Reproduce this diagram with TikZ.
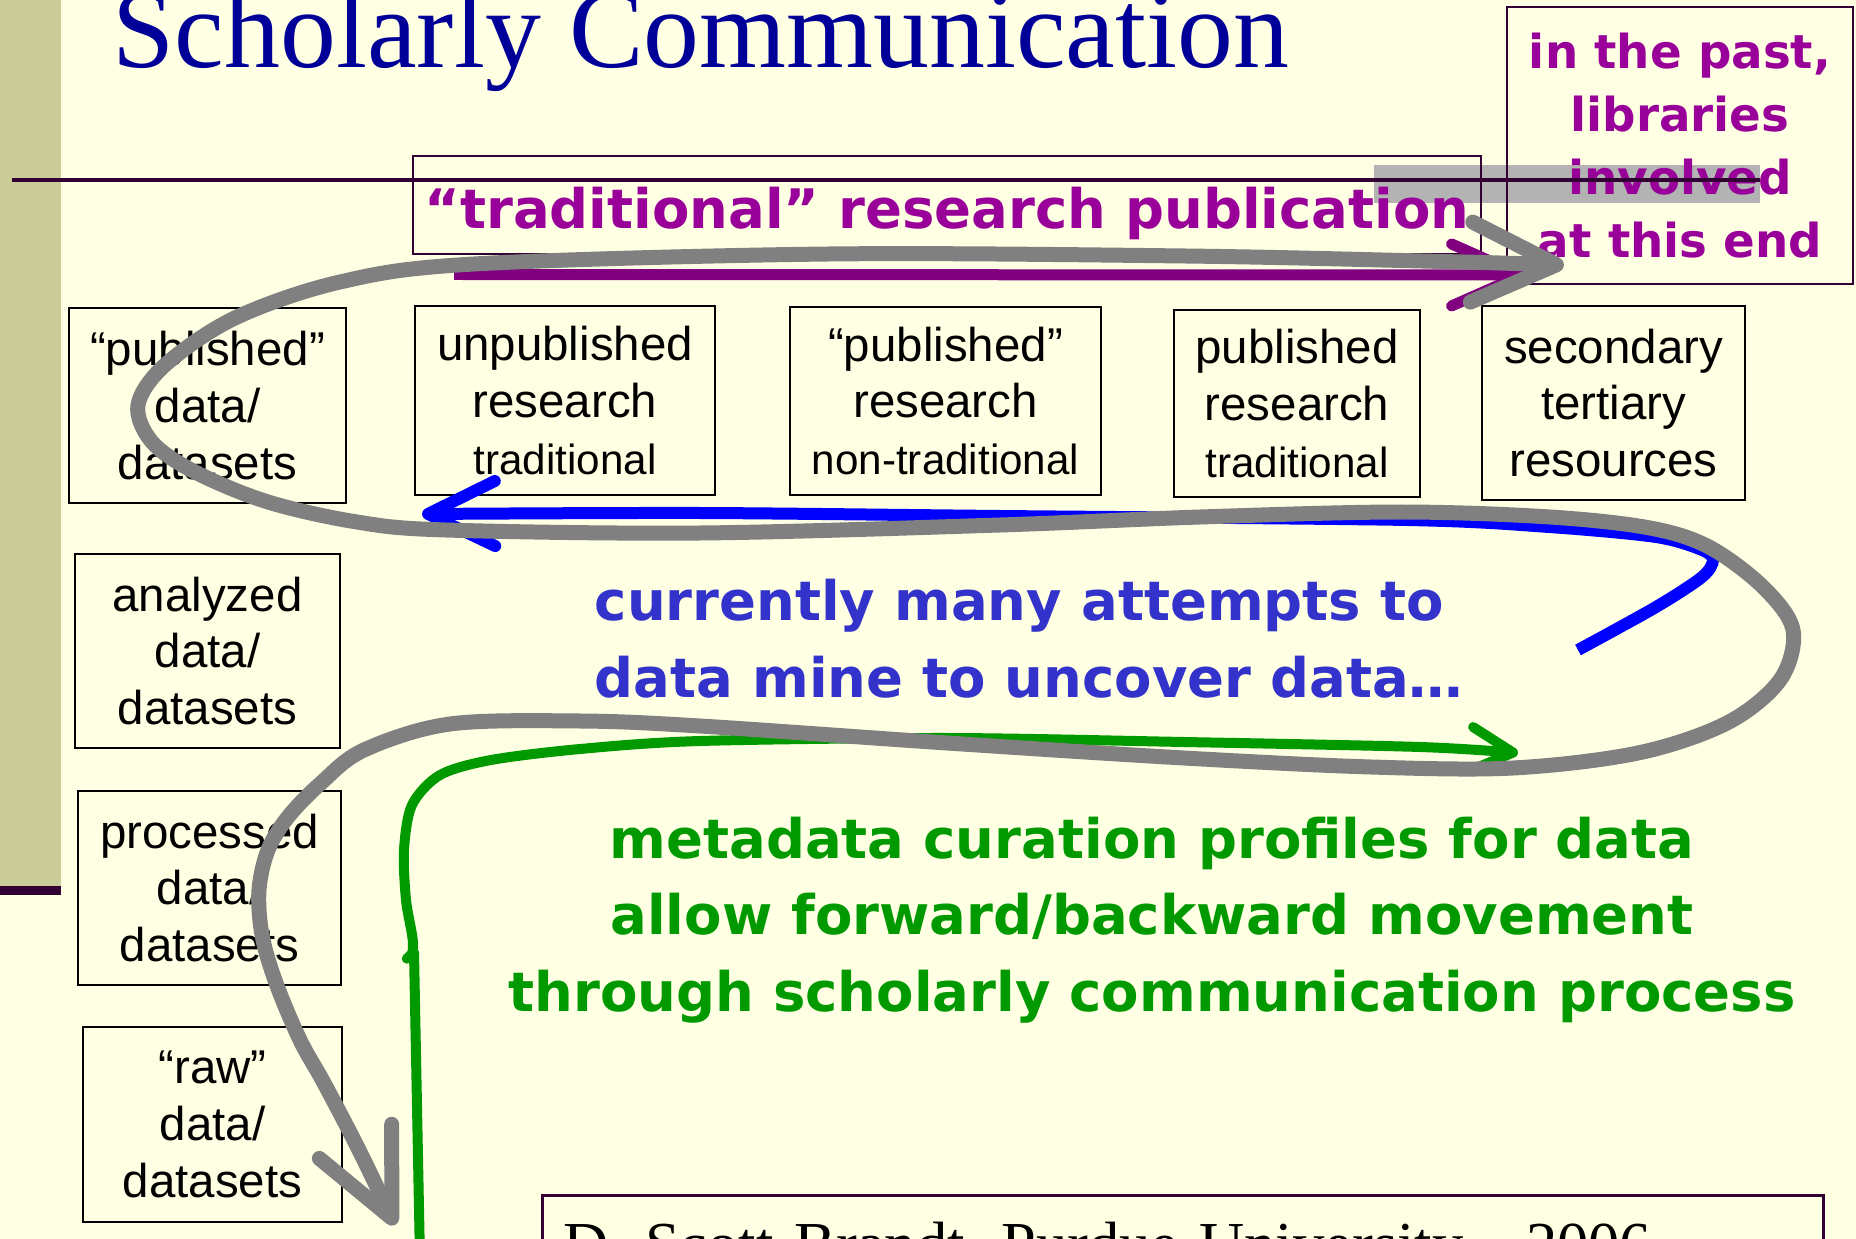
\documentclass[tikz,border=0pt]{standalone}
\usepackage{fontspec}
\setmainfont{Liberation Sans}
\newfontfamily\slideserif{Liberation Serif}
\newfontfamily\slidehand{DejaVu Sans}
\usepackage{xcolor}
\usepackage{tikz}
\usetikzlibrary{positioning,arrows.meta}
\definecolor{slideBg}{HTML}{FFFFE3}
\definecolor{barKhaki}{HTML}{CCCC99}
\definecolor{darkPlum}{HTML}{330033}
\definecolor{titleBlue}{HTML}{000099}
\definecolor{pastMagenta}{HTML}{990099}
\definecolor{pubPurple}{HTML}{800080}
\definecolor{mineBlue}{HTML}{3333CC}
\definecolor{arrowBlue}{HTML}{0000FF}
\definecolor{curGreen}{HTML}{009900}
\definecolor{loopGray}{HTML}{808080}
\definecolor{bandGray}{HTML}{B3B3B3}
\tikzstyle{data_box}=[draw=black, line width=0.02cm, align=center, inner sep=0pt, font=\fontsize{13.5}{16.2}\selectfont]
\tikzstyle{hand_text}=[inner sep=0pt, font=\slidehand\bfseries\fontsize{15.5}{21.8}\selectfont]
\tikzstyle{pubChan}=[draw=pubPurple, line width=0.11cm, -{Straight Barb[length=7mm, width=6.2mm, round]}]
\tikzstyle{mineChan}=[draw=arrowBlue, line width=0.12cm, -{Straight Barb[length=6.7mm, width=6.5mm, round]}]
\tikzstyle{curChan}=[draw=curGreen, line width=0.10cm, line cap=round, {Round Cap}-{Straight Barb[length=4.2mm, width=4.4mm, round]}]
\tikzstyle{loopChan}=[draw=loopGray, line width=0.15cm, line join=round, {Straight Barb[length=8.5mm, width=8mm, round]}-{Straight Barb[length=8.5mm, width=8mm, round]}]
\newcommand{\smalltxt}[1]{{\fontsize{12}{14}\selectfont #1}}

\begin{document}
\begin{tikzpicture}
    \useasboundingbox (0,0) rectangle (18.56,-12.39);
    \clip (0,0) rectangle (18.56,-12.39);
    \fill[slideBg] (0,0) rectangle (18.56,-12.39);
    \fill[barKhaki] (0,0) rectangle (0.61,-8.86);
    \fill[darkPlum] (0,-8.86) rectangle (0.61,-8.95);
    \fill[bandGray] (13.74,-1.65) rectangle (17.60,-2.03);

    %Title
    \node[anchor=base west, inner sep=0pt, text=titleBlue, font=\slideserif\fontsize{31.8}{36}\selectfont] (title) at (1.12,-0.68) {Scholarly Communication};

    %Banner and side note
    \node[hand_text, anchor=north, draw=darkPlum, line width=0.02cm, minimum width=10.68cm, text height=0.73cm, text depth=0.25cm, text=pastMagenta] (tradpub) at (9.47,-1.55) {“traditional” research publication};
    \node[draw=darkPlum, line width=0.02cm, minimum width=3.46cm, minimum height=2.77cm, align=center, inner sep=0pt, text=pastMagenta, font=\slidehand\bfseries\fontsize{13.3}{17.9}\selectfont] (pastnote) at (16.80,-1.455) {in the past,\\libraries\\involved\\at this end};
    \draw[darkPlum, line width=0.04cm] (0.12,-1.80) -- (17.60,-1.80);

    %Data boxes
    \node[data_box, minimum width=2.77cm, minimum height=1.95cm] (pubdata) at (2.075,-4.055) {“published”\\data/\\datasets};
    \node[data_box, minimum width=3.00cm, minimum height=1.89cm] (unpub) at (5.65,-4.005) {unpublished\\research\\\smalltxt{traditional}};
    \node[data_box, minimum width=3.11cm, minimum height=1.88cm] (pubnontrad) at (9.455,-4.01) {“published”\\research\\\smalltxt{non-traditional}};
    \node[data_box, minimum width=2.46cm, minimum height=1.87cm] (pubtrad) at (12.97,-4.035) {published\\research\\\smalltxt{traditional}};
    \node[data_box, minimum width=2.63cm, minimum height=1.94cm] (tertiary) at (16.135,-4.03) {secondary\\tertiary\\resources};
    \node[data_box, minimum width=2.65cm, minimum height=1.94cm, below=0.49cm of pubdata] (analyzed) {analyzed\\data/\\datasets};
    \node[data_box, minimum width=2.63cm, minimum height=1.94cm, below=0.41cm of analyzed, xshift=0.02cm] (processed) {processed\\data/\\datasets};
    \node[data_box, minimum width=2.59cm, minimum height=1.95cm, below=0.40cm of processed, xshift=0.03cm] (rawdata) {“raw”\\data/\\datasets};

    %Notes
    \node[hand_text, text=mineBlue, align=left, anchor=west] (mining) at (5.94,-6.39) {currently many attempts to\\data mine to uncover data…};
    \node[hand_text, text=curGreen, align=center] (curation) at (11.52,-9.20) {metadata curation profiles for data\\allow forward/backward movement\\through scholarly communication process};
    \node[draw=darkPlum, line width=0.03cm, anchor=north west, inner xsep=0.21cm, inner ysep=0pt, text width=12.39cm, text height=0.70cm, text depth=0.5cm, align=left, font=\slideserif\fontsize{17.8}{21}\selectfont] (credit) at (5.41,-11.94) {D. Scott Brandt, Purdue University - 2006};

    %Arrows
    \coordinate (pubStart) at (4.54,-2.745);
    \coordinate (pubEnd) at (15.27,-2.75);
    \draw[pubChan] (pubStart) -- (pubEnd);

    \coordinate (mineStart) at (15.78,-6.50);
    \coordinate (mineEnd) at (4.22,-5.14);
    \draw[mineChan] plot[smooth, tension=0.5] coordinates {(mineStart) (16.56,-6.07) (17.02,-5.77) (17.13,-5.60) (17.02,-5.50) (16.56,-5.37) (15.49,-5.27) (14.07,-5.20) (10.00,-5.16) (7.00,-5.13) (mineEnd)};

    \coordinate (curFoot) at (4.20,-12.60);
    \coordinate (curKnee) at (4.14,-9.52);
    \coordinate (curStart) at (4.03,-9.62);
    \coordinate (curEnd) at (15.18,-7.53);
    \draw[draw=curGreen, line width=0.10cm, line cap=round] (curFoot) -- (curKnee);
    \draw[curChan] plot[smooth, tension=0.5] coordinates {(curStart) (4.13,-9.45) (4.06,-9.00) (4.04,-8.50) (4.12,-8.05) (4.40,-7.75) (4.91,-7.60) (5.80,-7.49) (7.00,-7.41) (9.47,-7.38) (11.84,-7.42) (14.20,-7.47) (curEnd)};

    \coordinate (loopTop) at (15.64,-2.65);
    \coordinate (loopEnd) at (3.95,-12.25);
    \draw[loopChan] plot[smooth, tension=0.55] coordinates {(loopTop) (14.22,-2.61) (11.85,-2.56) (8.29,-2.54) (4.74,-2.64) (3.40,-2.82) (2.35,-3.18) (1.65,-3.65) (1.38,-4.05) (1.52,-4.42) (1.95,-4.72) (2.68,-5.02) (3.57,-5.22) (4.46,-5.30) (7.00,-5.33) (10.00,-5.25) (12.00,-5.17) (14.00,-5.12) (15.50,-5.17) (16.50,-5.28) (17.09,-5.47) (17.63,-5.87) (17.93,-6.30) (17.80,-6.80) (17.27,-7.23) (16.38,-7.53) (15.13,-7.68) (13.71,-7.67) (11.84,-7.58) (9.47,-7.43) (7.00,-7.26) (5.80,-7.21) (4.50,-7.24) (3.64,-7.50) (3.21,-7.83) (2.88,-8.17) (2.68,-8.50) (2.59,-8.90) (2.62,-9.35) (2.76,-9.83) (3.00,-10.40) (3.24,-10.83) (3.59,-11.50) (loopEnd)};
\end{tikzpicture}
\end{document}
